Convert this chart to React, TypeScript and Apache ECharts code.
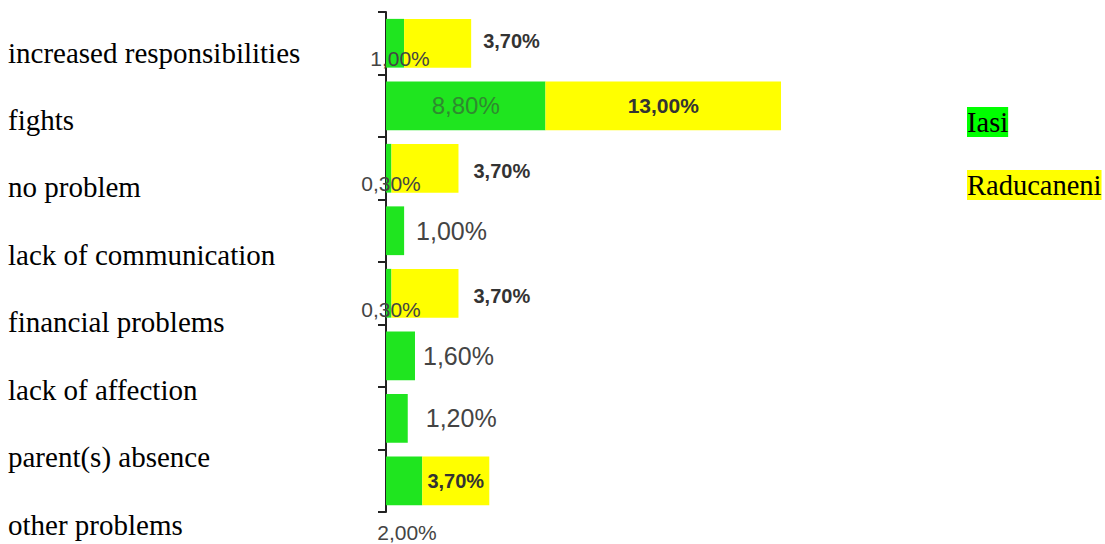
import React, { useEffect, useRef } from "react";
import * as echarts from "echarts";

const categories = [
  "increased responsibilities",
  "fights",
  "no problem",
  "lack of communication",
  "financial problems",
  "lack of affection",
  "parent(s) absence",
  "other problems",
];
const iasiValues = [1.0, 8.8, 0.3, 1.0, 0.3, 1.6, 1.2, 2.0];
const raducaneniValues: (number | null)[] = [3.7, 13.0, 3.7, null, 3.7, null, null, 3.7];
const seriesNames = ["Iasi", "Raducaneni"];

const GREEN = "#1fe51f";
const YELLOW = "#ffff00";
const fmt = (v: number) => v.toFixed(2).replace(".", ",") + "%";

// per-index label layout (styles, not data)
const greenLabelStyles: any[] = [
  { position: [14, 40], align: "center", verticalAlign: "middle", fontSize: 21, color: "#444" },
  { position: "inside", fontSize: 24, color: "#2f8a2f" },
  { position: [5, 40], align: "center", verticalAlign: "middle", fontSize: 21, color: "#444" },
  { position: "right", distance: 12, fontSize: 25, color: "#444" },
  { position: [5, 41], align: "center", verticalAlign: "middle", fontSize: 21, color: "#444" },
  { position: "right", distance: 8, fontSize: 25, color: "#444" },
  { position: "right", distance: 18, fontSize: 25, color: "#444" },
  { position: [21, 76], align: "center", verticalAlign: "middle", fontSize: 21, color: "#444" },
];
const yellowLabelStyles: any[] = [
  { position: "right", distance: 12, offset: [0, -2] },
  { position: "inside", fontSize: 21 },
  { position: "right", distance: 15, offset: [0, 3] },
  null,
  { position: "right", distance: 15, offset: [0, 3] },
  null,
  null,
  { position: "inside" },
];

export default function App() {
  const ref = useRef<HTMLDivElement>(null);
  useEffect(() => {
    if (!ref.current) return;
    const chart = echarts.init(ref.current, undefined, { renderer: "svg" });
    const greenData = iasiValues.map((v, i) => ({
      value: v,
      label: {
        show: true,
        fontFamily: "Liberation Sans",
        formatter: () => fmt(v),
        ...greenLabelStyles[i],
      },
    }));
    const yellowData = raducaneniValues.map((v, i) =>
      v == null
        ? { value: "-" }
        : {
            value: v,
            label: {
              show: true,
              fontFamily: "Liberation Sans",
              fontWeight: "bold",
              fontSize: 20,
              color: "#333",
              formatter: () => fmt(v),
              ...yellowLabelStyles[i],
            },
          }
    );
    chart.setOption({
      animation: false,
      grid: { left: 386, top: 12, height: 500, width: 543.6 },
      xAxis: { type: "value", min: 0, max: 30, show: false },
      yAxis: {
        type: "category",
        inverse: true,
        data: categories,
        axisLine: { show: true, lineStyle: { color: "#222", width: 2 } },
        axisTick: { show: true, length: 8, lineStyle: { color: "#222", width: 2 } },
        axisLabel: { show: false },
        splitLine: { show: false },
      },
      legend: {
        orient: "vertical",
        left: 962,
        top: 107,
        padding: 0,
        icon: "none",
        itemWidth: 0,
        itemHeight: 0,
        itemGap: 33,
        selectedMode: false,
        data: [
          { name: seriesNames[0], textStyle: { backgroundColor: "#00ff00" } },
          { name: seriesNames[1], textStyle: { backgroundColor: "#ffff00" } },
        ],
        textStyle: {
          fontFamily: "Liberation Serif",
          fontSize: 28.5,
          lineHeight: 30,
          color: "#000",
        },
      },
      graphic: categories.map((c, i) => ({
        type: "text",
        left: 8,
        top: 53 + i * 67.43 - 15,
        style: {
          text: c,
          font: "29px 'Liberation Serif'",
          fill: "#000",
        },
      })),
      series: [
        {
          name: seriesNames[0],
          type: "bar",
          stack: "total",
          barCategoryGap: "22%",
          itemStyle: { color: GREEN },
          data: greenData,
        },
        {
          name: seriesNames[1],
          type: "bar",
          stack: "total",
          barCategoryGap: "22%",
          itemStyle: { color: YELLOW },
          data: yellowData,
        },
      ],
    });
    return () => chart.dispose();
  }, []);
  return (
    <div
      ref={ref}
      style={{ position: "absolute", left: 0, top: 0, width: 1105, height: 544 }}
    />
  );
}
